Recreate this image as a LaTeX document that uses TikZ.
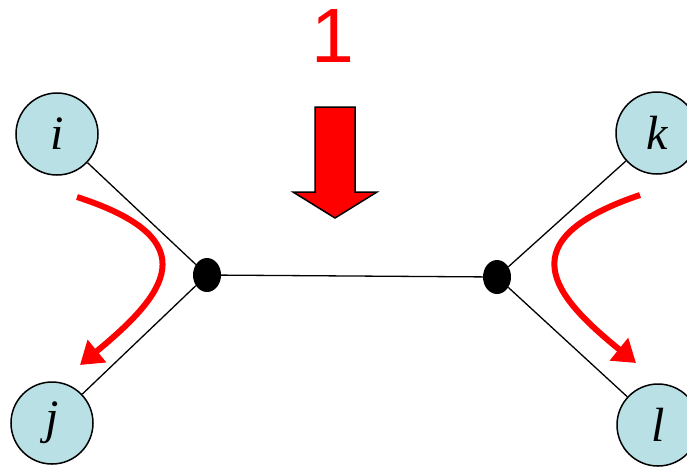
\documentclass[tikz,border=0pt]{standalone}
\usepackage{fontspec}
\setmainfont{Liberation Serif}
\newfontfamily\labelsans{Liberation Sans}
\usetikzlibrary{shapes.geometric,arrows.meta}
\definecolor{nodeblue}{RGB}{185,224,228}
\tikzset{
  leaf/.style={circle,draw=black,line width=1.5pt,fill=nodeblue,minimum size=82pt,inner sep=0pt,font=\fontsize{48}{50}\selectfont\itshape},
  junction/.style={ellipse,fill=black,minimum width=28pt,minimum height=34pt,inner sep=0pt},
  edge/.style={draw=black,line width=1.3pt},
  flow/.style={draw=red,line width=6pt,-{Triangle[length=22pt,width=28pt]}}
}
\begin{document}
\begin{tikzpicture}[x=1pt,y=-1pt]
\useasboundingbox (0,0) rectangle (687,467);
\clip (0,0) rectangle (687,467);
\node[leaf] (i) at (57,134) {i};
\node[leaf] (j) at (52,423) {j};
\node[leaf] (k) at (657,133) {k};
\node[leaf] (l) at (658,425) {l};
\node[junction] (a) at (207,275) {};
\node[junction] (b) at (497,277) {};
\draw[edge] (i) -- (a);
\draw[edge] (j) -- (a);
\draw[edge] (a) -- (b);
\draw[edge] (k) -- (b);
\draw[edge] (l) -- (b);
\node[text=red,font=\labelsans\fontsize{77}{80}\selectfont] (one) at (333,36) {1};
\draw[fill=red,draw=black,line width=1.5pt,line join=miter]
  (315,107) -- (355,107) -- (355,192) -- (377,192) -- (335,218) -- (293,192) -- (315,192) -- cycle;
\coordinate (ls) at (77,197);
\coordinate (le) at (80,365);
\coordinate (rs) at (640,195);
\coordinate (re) at (636,363);
\draw[flow] (ls) .. controls (210,240) and (165,295) .. (le);
\draw[flow] (rs) .. controls (507,240) and (552,295) .. (re);
\end{tikzpicture}
\end{document}
